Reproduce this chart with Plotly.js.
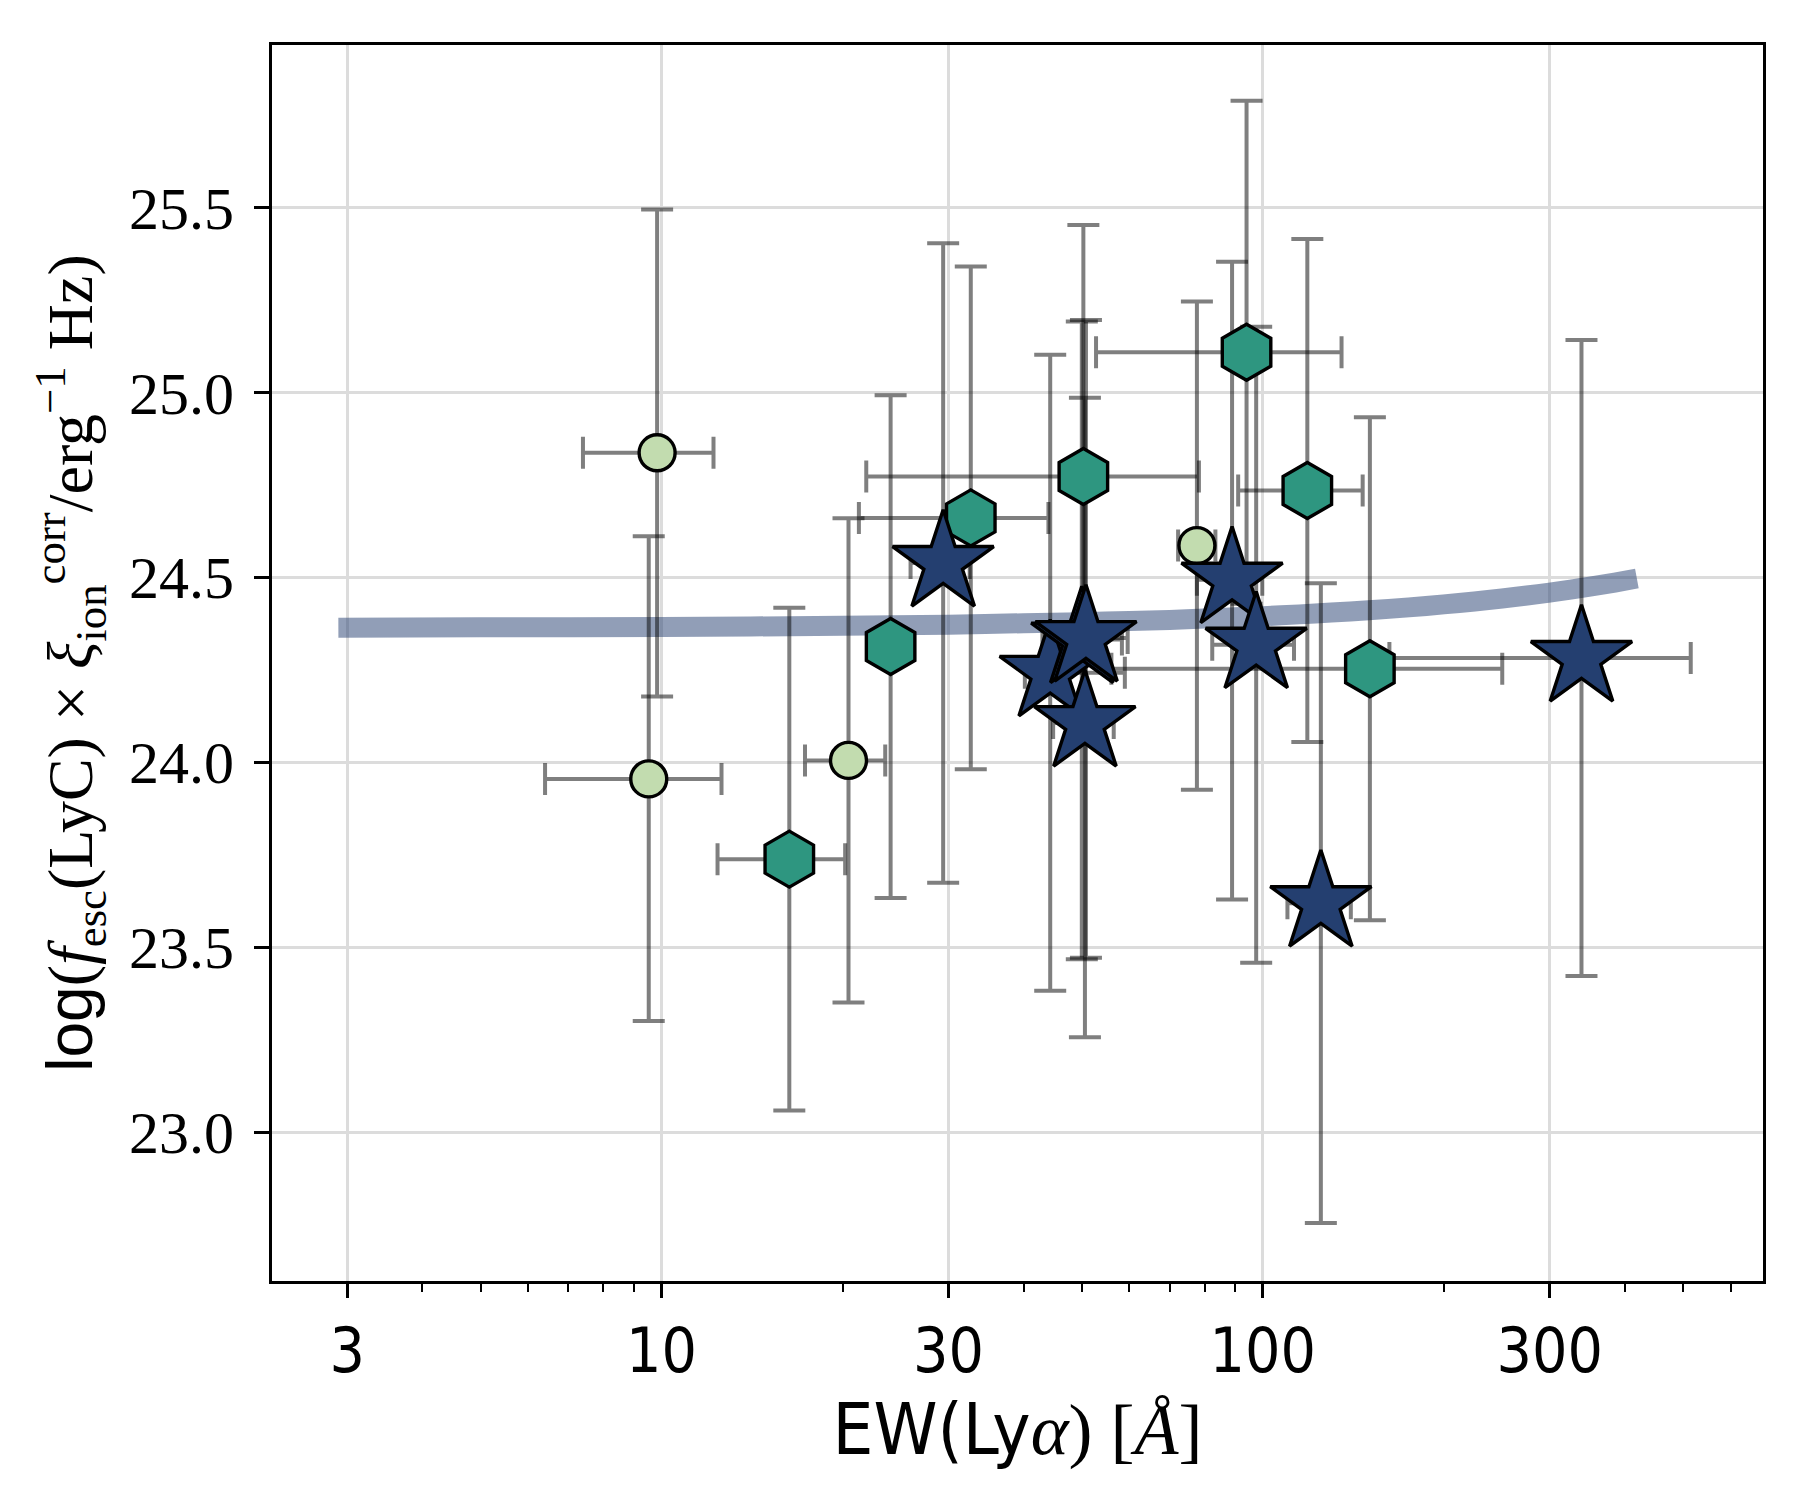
<!DOCTYPE html>
<html>
<head>
<meta charset="utf-8">
<script src="https://cdn.plot.ly/plotly-3.0.1.min.js"></script>
<style>
  html, body { margin: 0; padding: 0; background: #fff; }
  #chart { width: 1800px; height: 1500px; }
</style>
</head>
<body>
<div id="chart"></div>
<script>
// trend line
var lineEW = [2.9, 5, 10, 20, 30, 40, 50, 60, 70, 80, 90, 100, 115, 130, 150, 175, 200, 225, 250, 275, 300, 325, 350, 385, 419];
var lineY  = [24.364, 24.365, 24.366, 24.369, 24.372, 24.376, 24.379, 24.382, 24.385, 24.389, 24.392, 24.395, 24.400, 24.405, 24.411, 24.419, 24.427, 24.435, 24.443, 24.451, 24.459, 24.467, 24.475, 24.486, 24.497];

// light green circles
var circEW   = [9.83, 9.52, 20.46, 77.7];
var circEWlo = [7.40, 6.40, 17.32, 72.3];
var circEWhi = [12.2, 12.58, 23.55, 83.4];
var circY    = [24.837, 23.955, 24.005, 24.586];
var circYlo  = [24.178, 23.300, 23.350, 23.926];
var circYhi  = [25.495, 24.611, 24.660, 25.246];

// teal hexagons
var hexEW   = [16.31, 24.04, 32.68, 50.3, 93.97, 118.6, 150.7];
var hexEWlo = [12.39, null, 21.29, 21.9, 52.8, 91.0, 56.0];
var hexEWhi = [20.2, null, 44.0, 78.3, 135.2, 146.6, 250.2];
var hexY    = [23.738, 24.313, 24.661, 24.773, 25.109, 24.735, 24.253];
var hexYlo  = [23.058, 23.633, 23.981, 24.093, 24.429, 24.055, 23.573];
var hexYhi  = [24.418, 24.993, 25.341, 25.453, 25.789, 25.415, 24.933];

// navy stars
var starEW   = [29.4, 44.3, 50.0, 50.8, 50.6, 88.9, 97.5, 124.9, 338.9];
var starEWlo = [25.95, 40.2, 43.0, 44.0, 44.8, 77.7, 82.4, 109.9, 162.4];
var starEWhi = [32.55, 58.96, 58.3, 59.6, 56.5, 99.8, 112.7, 140.1, 515.0];
var starY    = [24.539, 24.242, 24.332, 24.336, 24.106, 24.494, 24.318, 23.619, 24.282];
var starYlo  = [23.674, 23.382, 23.467, 23.471, 23.256, 23.629, 23.458, 22.754, 23.422];
var starYhi  = [25.404, 25.102, 25.192, 25.196, 24.986, 25.354, 25.178, 24.484, 25.142];

var yTicks = [23.0, 23.5, 24.0, 24.5, 25.0, 25.5];
var xTicks = [3, 10, 30, 100, 300];

function diff(a, b) {
  return a.map(function (v, i) { return (v === null || b[i] === null) ? null : v - b[i]; });
}

var barStyle = { color: 'rgba(0,0,0,0.5)', thickness: 4, width: 16 };

function errTrace(x, xlo, xhi, y, ylo, yhi) {
  return {
    x: x, y: y, type: 'scatter', mode: 'markers',
    marker: { size: 1, color: 'rgba(0,0,0,0)' },
    hoverinfo: 'skip',
    error_x: Object.assign({ type: 'data', symmetric: false, array: diff(xhi, x), arrayminus: diff(x, xlo) }, barStyle),
    error_y: Object.assign({ type: 'data', symmetric: false, array: diff(yhi, y), arrayminus: diff(y, ylo) }, barStyle)
  };
}

var trendLine = {
  x: lineEW, y: lineY, type: 'scatter', mode: 'lines',
  line: { color: 'rgba(35,61,112,0.5)', width: 20, shape: 'spline', smoothing: 0.6 }
};

var circles = {
  x: circEW, y: circY, type: 'scatter', mode: 'markers',
  marker: { symbol: 'circle', size: 36, color: '#c2dcaf', line: { color: '#000', width: 3.4 } }
};
var hexes = {
  x: hexEW, y: hexY, type: 'scatter', mode: 'markers',
  marker: { symbol: 'hexagon', size: 56, color: '#2e9680', line: { color: '#000', width: 3.4 } }
};
var stars = {
  x: starEW, y: starY, type: 'scatter', mode: 'markers',
  marker: { symbol: 'star', size: 76, color: '#243f70', line: { color: '#000', width: 3.4 } }
};

var minorVals = [];
[1, 10, 100].forEach(function (d) {
  for (var k = 2; k <= 9; k++) minorVals.push(k * d);
});

var data = [
  trendLine,
  errTrace(circEW, circEWlo, circEWhi, circY, circYlo, circYhi),
  errTrace(hexEW, hexEWlo, hexEWhi, hexY, hexYlo, hexYhi),
  errTrace(starEW, starEWlo, starEWhi, starY, starYlo, starYhi),
  circles, hexes, stars
];

var serif = '"Liberation Serif", "DejaVu Serif", serif';
var sans = '"Liberation Sans Narrow", "DejaVu Sans Condensed", "Liberation Sans", sans-serif';

var layout = {
  width: 1800, height: 1500,
  showlegend: false,
  paper_bgcolor: '#fff', plot_bgcolor: '#fff',
  margin: { l: 272, r: 37, t: 45, b: 219 },
  xaxis: {
    type: 'log',
    range: [0.352, 2.832],
    tickmode: 'array', tickvals: xTicks, ticktext: xTicks.map(String),
    ticks: 'outside', ticklen: 14, tickwidth: 3, tickcolor: '#000',
    tickfont: { family: sans, size: 62, color: '#000' },
    showgrid: true, gridcolor: '#dcdcdc', gridwidth: 3,
    minor: { tickmode: 'array', tickvals: minorVals, ticks: 'outside', ticklen: 8, tickwidth: 2, tickcolor: '#000', showgrid: false },
    showline: true, linecolor: '#000', linewidth: 3, mirror: true,
    zeroline: false,
    title: {
      text: '<span style="font-family:Liberation Sans Narrow, DejaVu Sans Condensed, Liberation Sans">EW(Ly</span><i>α</i>) [<i>Å</i>]',
      font: { family: serif, size: 72, color: '#000' },
      standoff: 16
    }
  },
  yaxis: {
    range: [22.597, 25.94],
    tickmode: 'array', tickvals: yTicks, ticktext: yTicks.map(function (v) { return v.toFixed(1); }),
    ticks: 'outside', ticklen: 15, tickwidth: 3, tickcolor: '#000',
    tickfont: { family: serif, size: 60, color: '#000' },
    ticklabelstandoff: 8,
    showgrid: true, gridcolor: '#dcdcdc', gridwidth: 3,
    showline: true, linecolor: '#000', linewidth: 3, mirror: true,
    zeroline: false,
    title: {
      text: '<span style="font-family:Liberation Sans, sans-serif">log</span>(<i>f</i><sub>esc</sub>(LyC) × <i>ξ</i><sub>ion</sub><sup>corr</sup>/erg<sup>−1</sup> Hz)',
      font: { family: serif, size: 64, color: '#000' },
      standoff: 16
    }
  }
};

Plotly.newPlot('chart', data, layout, { staticPlot: true });
</script>
</body>
</html>
